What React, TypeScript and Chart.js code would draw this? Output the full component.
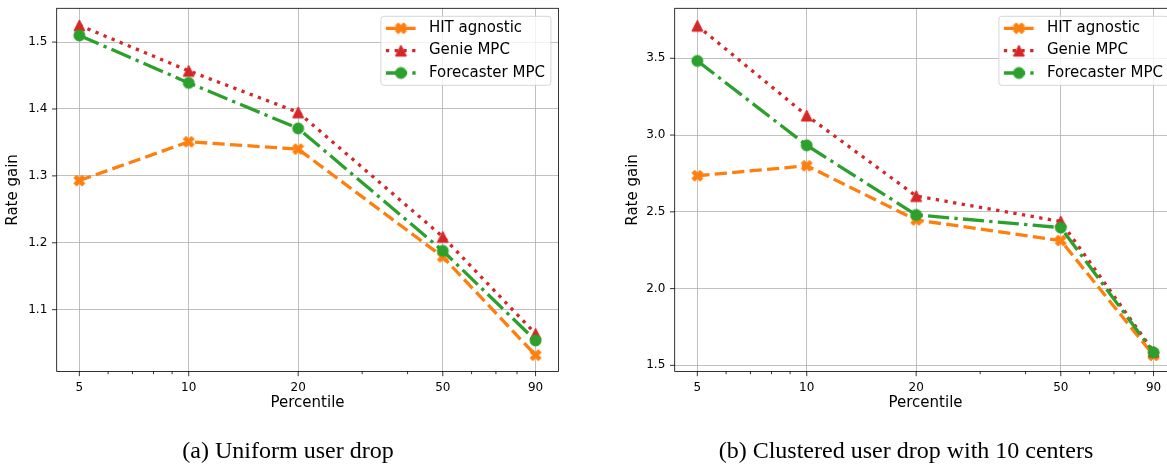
import React, { useEffect, useRef } from "react";
import { Chart, registerables } from "chart.js";

Chart.register(...registerables);

// ---------------- data ----------------
const percentiles = [5, 10, 20, 50, 90];
const minorPercentiles = [6, 7, 8, 9, 30, 40, 60, 70, 80];
const seriesNames = ["HIT agnostic", "Genie MPC", "Forecaster MPC"];

const uniformHit = [1.293, 1.351, 1.34, 1.179, 1.032];
const uniformGenie = [1.525, 1.457, 1.395, 1.209, 1.064];
const uniformForecaster = [1.51, 1.439, 1.371, 1.188, 1.054];
const uniformYTicks = [1.1, 1.2, 1.3, 1.4, 1.5];

const clusteredHit = [2.735, 2.8, 2.447, 2.313, 1.565];
const clusteredGenie = [3.712, 3.127, 2.603, 2.437, 1.59];
const clusteredForecaster = [3.483, 2.933, 2.48, 2.397, 1.584];
const clusteredYTicks = [1.5, 2.0, 2.5, 3.0, 3.5];

const xLabel = "Percentile";
const yLabel = "Rate gain";
const captionA = "(a) Uniform user drop";
const captionB = "(b) Clustered user drop with 10 centers";

// ---------------- styles ----------------
const FONT = "'DejaVu Sans', sans-serif";
const COLORS = ["#ff7f0e", "#d62728", "#2ca02c"];
const LW = 3.3;
const DASHES = [
  [3.7 * LW, 1.6 * LW],
  [1 * LW, 1.65 * LW],
  [6.4 * LW, 1.6 * LW, 1 * LW, 1.6 * LW],
];
const MARKER_SIZE = 11;

function makeMarker(kind: string, color: string, size: number) {
  const dim = Math.ceil(size + 4);
  const c = document.createElement("canvas");
  c.width = dim;
  c.height = dim;
  const ctx = c.getContext("2d")!;
  ctx.translate(dim / 2, dim / 2);
  ctx.fillStyle = color;
  ctx.strokeStyle = color;
  ctx.lineWidth = 1;
  ctx.lineJoin = "miter";
  ctx.beginPath();
  const s = size / 2;
  if (kind === "x") {
    const pts = [
      [-1, -2], [0, -1], [1, -2], [2, -1], [1, 0], [2, 1],
      [1, 2], [0, 1], [-1, 2], [-2, 1], [-1, 0], [-2, -1],
    ];
    pts.forEach(([px, py], i) => {
      const x = (px / 4) * size;
      const y = (py / 4) * size;
      if (i === 0) ctx.moveTo(x, y);
      else ctx.lineTo(x, y);
    });
  } else if (kind === "tri") {
    ctx.moveTo(0, -s);
    ctx.lineTo(-s, s);
    ctx.lineTo(s, s);
  } else {
    ctx.arc(0, 0, s, 0, Math.PI * 2);
  }
  ctx.closePath();
  ctx.fill();
  ctx.stroke();
  return c;
}

type PanelCfg = {
  canvasLeft: number;
  canvasWidth: number;
  canvasHeight: number;
  areaLeft: number;
  areaRight: number;
  areaTop: number;
  areaBottom: number;
  yMin: number;
  yMax: number;
  yTicks: number[];
  series: number[][];
  yTitleX: number;
  xTitleY: number;
};

function Panel({ cfg }: { cfg: PanelCfg }) {
  const ref = useRef<HTMLCanvasElement | null>(null);
  useEffect(() => {
    if (!ref.current) return;
    const markers = [
      makeMarker("x", COLORS[0], MARKER_SIZE),
      makeMarker("tri", COLORS[1], MARKER_SIZE),
      makeMarker("circle", COLORS[2], MARKER_SIZE),
    ];
    const minorSet = new Set(minorPercentiles);
    const relLeft = cfg.areaLeft - cfg.canvasLeft;
    const relRight = cfg.areaRight - cfg.canvasLeft;

    const decor = {
      id: "decor",
      afterDraw(chart: any) {
        const ctx = chart.ctx as CanvasRenderingContext2D;
        const a = chart.chartArea;
        const xs = chart.scales.x;
        const ys = chart.scales.y;
        ctx.save();
        // spines
        ctx.strokeStyle = "#000";
        ctx.lineWidth = 0.8;
        ctx.setLineDash([]);
        ctx.strokeRect(a.left, a.top, a.right - a.left, a.bottom - a.top);
        // tick marks
        ctx.beginPath();
        percentiles.forEach((v) => {
          const px = xs.getPixelForValue(v);
          ctx.moveTo(px, a.bottom);
          ctx.lineTo(px, a.bottom + 4.7);
        });
        minorPercentiles.forEach((v) => {
          const px = xs.getPixelForValue(v);
          ctx.moveTo(px, a.bottom);
          ctx.lineTo(px, a.bottom + 2.7);
        });
        cfg.yTicks.forEach((v) => {
          const py = ys.getPixelForValue(v);
          ctx.moveTo(a.left, py);
          ctx.lineTo(a.left - 4.7, py);
        });
        ctx.stroke();
        // axis titles
        ctx.fillStyle = "#000";
        ctx.font = `15px ${FONT}`;
        ctx.textAlign = "center";
        ctx.textBaseline = "middle";
        ctx.fillText(xLabel, (a.left + a.right) / 2, cfg.xTitleY);
        ctx.save();
        ctx.translate(cfg.yTitleX - cfg.canvasLeft, (a.top + a.bottom) / 2);
        ctx.rotate(-Math.PI / 2);
        ctx.fillText(yLabel, 0, 0);
        ctx.restore();
        // legend
        const bw = 170;
        const bh = 69;
        const lx = a.right - 7.5 - bw;
        const ly = a.top + 8;
        ctx.beginPath();
        if ((ctx as any).roundRect) (ctx as any).roundRect(lx, ly, bw, bh, 3);
        else ctx.rect(lx, ly, bw, bh);
        ctx.fillStyle = "rgba(255,255,255,0.8)";
        ctx.fill();
        ctx.strokeStyle = "rgba(204,204,204,0.8)";
        ctx.lineWidth = 1;
        ctx.stroke();
        const rowY = [12, 34.3, 56.7];
        seriesNames.forEach((name, i) => {
          const y = ly + rowY[i];
          ctx.save();
          ctx.strokeStyle = COLORS[i];
          ctx.lineWidth = LW;
          ctx.lineCap = "butt";
          ctx.setLineDash(DASHES[i]);
          ctx.beginPath();
          ctx.moveTo(lx + 5, y);
          ctx.lineTo(lx + 35, y);
          ctx.stroke();
          ctx.restore();
          const m = markers[i];
          ctx.drawImage(m, lx + 20 - m.width / 2, y - m.height / 2);
          ctx.fillStyle = "#000";
          ctx.font = `15px ${FONT}`;
          ctx.textAlign = "left";
          ctx.textBaseline = "middle";
          ctx.fillText(name, lx + 48, y);
        });
        ctx.restore();
      },
    };

    const datasets = cfg.series.map((vals, i) => ({
      label: seriesNames[i],
      data: percentiles.map((p, j) => ({ x: p, y: vals[j] })),
      borderColor: COLORS[i],
      backgroundColor: COLORS[i],
      borderWidth: LW,
      borderDash: DASHES[i],
      borderCapStyle: "butt" as const,
      borderJoinStyle: "round" as const,
      pointStyle: markers[i],
      pointRadius: 5,
      pointHoverRadius: 5,
      tension: 0,
      fill: false,
      order: 3 - i,
    }));

    const chart = new Chart(ref.current, {
      type: "line",
      data: { datasets },
      plugins: [decor],
      options: {
        responsive: false,
        animation: false,
        events: [],
        devicePixelRatio: 1,
        layout: {
          padding: {
            left: 0,
            top: cfg.areaTop,
            right: cfg.canvasWidth - relRight,
            bottom: 0,
          },
        },
        plugins: {
          legend: { display: false },
          tooltip: { enabled: false },
        },
        scales: {
          x: {
            type: "logarithmic",
            min: 4.332,
            max: 104.0,
            afterBuildTicks: (s: any) => {
              s.ticks = [...percentiles, ...minorPercentiles]
                .sort((p, q) => p - q)
                .map((v) => ({ value: v }));
            },
            afterFit: (s: any) => {
              s.height = cfg.canvasHeight - cfg.areaBottom;
              s.paddingLeft = 0;
              s.paddingRight = 0;
            },
            ticks: {
              autoSkip: false,
              maxRotation: 0,
              minRotation: 0,
              padding: 9.4,
              color: "#000",
              font: { family: FONT, size: 12 },
              callback: (v: any) => (minorSet.has(Number(v)) ? "" : String(v)),
            },
            grid: {
              drawTicks: false,
              lineWidth: 0.8,
              color: (c: any) =>
                c.tick && minorSet.has(c.tick.value) ? "rgba(0,0,0,0)" : "#b0b0b0",
            },
            border: { display: false },
          },
          y: {
            type: "linear",
            min: cfg.yMin,
            max: cfg.yMax,
            afterBuildTicks: (s: any) => {
              s.ticks = cfg.yTicks.map((v) => ({ value: v }));
            },
            afterFit: (s: any) => {
              s.width = relLeft;
              s.paddingTop = 0;
              s.paddingBottom = 0;
            },
            ticks: {
              padding: 9.4,
              color: "#000",
              font: { family: FONT, size: 12 },
              callback: (v: any) => Number(v).toFixed(1),
            },
            grid: { drawTicks: false, lineWidth: 0.8, color: "#b0b0b0" },
            border: { display: false },
          },
        },
      },
    } as any);
    return () => chart.destroy();
  }, [cfg]);

  return (
    <canvas
      ref={ref}
      width={cfg.canvasWidth}
      height={cfg.canvasHeight}
      style={{
        position: "absolute",
        left: cfg.canvasLeft,
        top: 0,
        width: cfg.canvasWidth,
        height: cfg.canvasHeight,
      }}
    />
  );
}

const leftCfg: PanelCfg = {
  canvasLeft: 0,
  canvasWidth: 580,
  canvasHeight: 469,
  areaLeft: 56.7,
  areaRight: 558.4,
  areaTop: 6,
  areaBottom: 371.5,
  yMin: 1.0076,
  yMax: 1.5505,
  yTicks: uniformYTicks,
  series: [uniformHit, uniformGenie, uniformForecaster],
  yTitleX: 13,
  xTitleY: 403,
};

const rightCfg: PanelCfg = {
  canvasLeft: 590,
  canvasWidth: 600,
  canvasHeight: 469,
  areaLeft: 674.7,
  areaRight: 1176.4,
  areaTop: 6,
  areaBottom: 371.5,
  yMin: 1.46,
  yMax: 3.8256,
  yTicks: clusteredYTicks,
  series: [clusteredHit, clusteredGenie, clusteredForecaster],
  yTitleX: 633.3,
  xTitleY: 403,
};

export default function App() {
  const captionStyle = (center: number): React.CSSProperties => ({
    position: "absolute",
    left: center - 250,
    width: 500,
    top: 438,
    textAlign: "center",
    fontFamily: "'Liberation Serif', 'Times New Roman', serif",
    fontSize: 24,
    lineHeight: "24px",
    color: "#000",
    whiteSpace: "nowrap",
  });
  return (
    <div
      style={{
        position: "fixed",
        left: 0,
        top: 0,
        width: 1167,
        height: 469,
        overflow: "hidden",
        background: "#fff",
      }}
    >
      <Panel cfg={leftCfg} />
      <Panel cfg={rightCfg} />
      <div style={captionStyle(288)}>{captionA}</div>
      <div style={captionStyle(906)}>{captionB}</div>
    </div>
  );
}
